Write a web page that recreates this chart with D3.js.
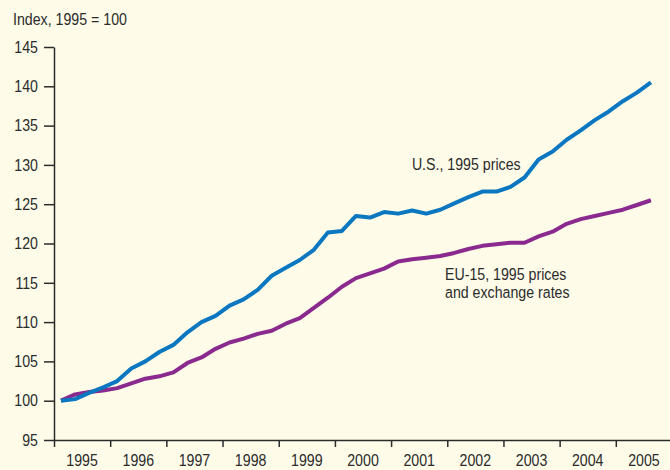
<!DOCTYPE html>
<html>
<head>
<meta charset="utf-8">
<script src="https://cdn.jsdelivr.net/npm/d3@7"></script>
<style>
  html, body { margin: 0; padding: 0; background: #fefce9; }
  svg text { font-family: "Liberation Sans", Arial, sans-serif; fill: #2b2b2b; }
</style>
</head>
<body>
<div id="chart"></div>
<script>
// Quarterly index, 1995 Q1 .. 2005 Q3 (1995 = 100)
const years = [1995, 1996, 1997, 1998, 1999, 2000, 2001, 2002, 2003, 2004, 2005];
const yTicks = [95, 100, 105, 110, 115, 120, 125, 130, 135, 140, 145];

const usValues = [
    100.0, 100.2, 101.0, 101.7,
    102.5, 104.1, 105.0, 106.2,
    107.1, 108.7, 110.0, 110.8,
    112.1, 112.9, 114.1, 115.9,
    116.9, 117.9, 119.2, 121.4,
    121.6, 123.5, 123.3, 124.0,
    123.8, 124.2, 123.8, 124.3,
    125.1, 125.9, 126.6, 126.6,
    127.2, 128.4, 130.7, 131.7,
    133.2, 134.4, 135.7, 136.8,
    138.1, 139.2, 140.5
];

const euValues = [
    100.0, 100.8, 101.1, 101.3,
    101.6, 102.2, 102.8, 103.1,
    103.6, 104.8, 105.5, 106.6,
    107.4, 107.9, 108.5, 108.9,
    109.8, 110.5, 111.8, 113.1,
    114.5, 115.6, 116.2, 116.8,
    117.7, 118.0, 118.2, 118.4,
    118.8, 119.3, 119.7, 119.9,
    120.1, 120.1, 120.9, 121.5,
    122.5, 123.1, 123.5, 123.9,
    124.3, 124.9, 125.5
];

const config = {
    width: 670,
    height: 470,
    margin: { left: 54, top: 47, right: -2, bottom: 30 }
};

// The reference uses a condensed face; squeeze the text horizontally
const squeeze = 0.86;
const fontSize = '16.5px';

const width = config.width - config.margin.left - config.margin.right;
const height = config.height - config.margin.top - config.margin.bottom;

const svg = d3.select('#chart')
    .append('svg')
    .attr('width', config.width)
    .attr('height', config.height)
    .style('display', 'block');

svg.append('rect')
    .attr('width', config.width)
    .attr('height', config.height)
    .attr('fill', '#fefce9');

const g = svg.append('g')
    .attr('transform', `translate(${config.margin.left},${config.margin.top})`);

// Scales: x in years, points at middle of each quarter
const x = d3.scaleLinear()
    .domain([1995, 2006])
    .range([0, width]);

const y = d3.scaleLinear()
    .domain([95, 145])
    .range([height, 0]);

const toPoints = vals => vals.map((v, i) => ({ t: 1995 + (i + 0.5) / 4, v }));

const line = d3.line()
    .x(d => x(d.t))
    .y(d => y(d.v));

// helper: condensed text at a point
function label(parent, px, py, anchor) {
    return parent.append('text')
        .attr('transform', `translate(${px},${py}) scale(${squeeze},1)`)
        .style('text-anchor', anchor || 'start')
        .style('font-size', fontSize);
}

// Y axis
const yAxis = g.append('g')
    .call(d3.axisLeft(y)
        .tickValues(yTicks)
        .tickSize(10)
        .tickSizeOuter(0)
        .tickPadding(6));
yAxis.select('.domain').attr('stroke', '#2b2b2b').attr('stroke-width', 1.5);
yAxis.selectAll('.tick line').attr('stroke', '#2b2b2b').attr('stroke-width', 1.5);
yAxis.selectAll('.tick text')
    .attr('x', 0)
    .attr('transform', `translate(-16,0) scale(${squeeze},1)`)
    .style('font-size', fontSize);

// X axis
const xAxis = g.append('g')
    .attr('transform', `translate(0,${height})`)
    .call(d3.axisBottom(x)
        .tickValues(years)
        .tickSize(7)
        .tickSizeOuter(0)
        .tickFormat(''));
xAxis.select('.domain').attr('stroke', '#2b2b2b').attr('stroke-width', 1.5);
xAxis.selectAll('.tick line').attr('stroke', '#2b2b2b').attr('stroke-width', 1.5);

years.forEach(yr => {
    label(xAxis, x(yr + 0.5), 26, 'middle').text(yr);
});

// Axis title
label(svg, 13, 25).text('Index, 1995 = 100');

// Lines
g.append('path')
    .datum(toPoints(euValues))
    .attr('fill', 'none')
    .attr('stroke', '#8b2a8e')
    .attr('stroke-width', 4)
    .attr('stroke-linejoin', 'round')
    .attr('d', line);

g.append('path')
    .datum(toPoints(usValues))
    .attr('fill', 'none')
    .attr('stroke', '#0a77c0')
    .attr('stroke-width', 4)
    .attr('stroke-linejoin', 'round')
    .attr('d', line);

// Series labels
label(g, x(2001.37), y(129.4)).text('U.S., 1995 prices');

const euLabel = label(g, x(2001.96), y(115.35));
euLabel.append('tspan').attr('x', 0).text('EU-15, 1995 prices');
euLabel.append('tspan')
    .attr('x', 0)
    .attr('dy', 18)
    .text('and exchange rates');
</script>
</body>
</html>
